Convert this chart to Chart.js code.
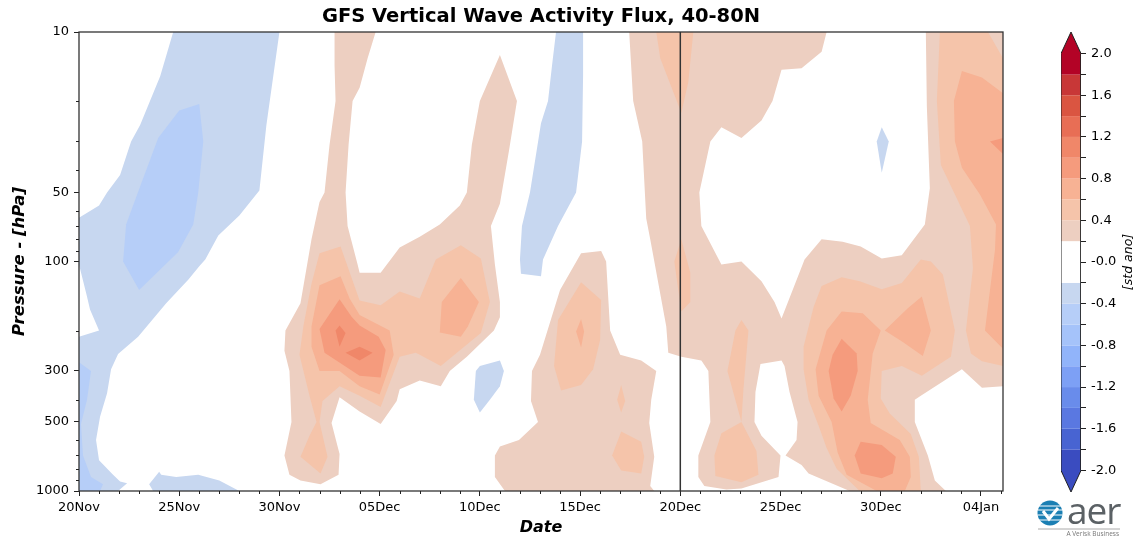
<!DOCTYPE html>
<html>
<head>
<meta charset="utf-8">
<title>GFS Vertical Wave Activity Flux</title>
<script src="https://cdn.jsdelivr.net/npm/chart.js@4"></script>
<style>
  html, body { margin: 0; padding: 0; background: #fff; width: 1139px; height: 537px; overflow: hidden; }
  canvas { position: absolute; top: 0; }
  #logo { position: absolute; left: 1036px; top: 499px; }
</style>
</head>
<body>
<canvas id="flux" width="1139" height="537" style="left:0"></canvas>
<canvas id="cbar" width="99" height="537" style="left:1040px"></canvas>
<svg id="logo" width="103" height="38" viewBox="0 0 103 38">
  <circle cx="14" cy="14" r="12.5" fill="#1b7fb3"/>
  <path d="M2 7h24M1.5 11h25M1.5 16h25M3 21h22" stroke="#fff" stroke-width="1"/>
  <path d="M7 12l6 8 9-11" fill="none" stroke="#fff" stroke-width="3"/>
  <text x="31" y="25" font-family="'Open Sans', sans-serif" font-size="37" fill="#5b6165" letter-spacing="-1">aer</text>
  <line x1="2" y1="30" x2="84" y2="30" stroke="#aaa" stroke-width="1"/>
  <text x="83" y="37" text-anchor="end" font-family="'Open Sans', sans-serif" font-size="6.5" fill="#777">A Verisk Business</text>
</svg>
<script>
(() => {
  // x = days since 20 Nov, y = pressure in hPa
  const xTickDays = [0, 5, 10, 15, 20, 25, 30, 35, 40, 45];
  const xTickLabels = ["20Nov", "25Nov", "30Nov", "05Dec", "10Dec", "15Dec", "20Dec", "25Dec", "30Dec", "04Jan"];
  const yTicks = [10, 50, 100, 300, 500, 1000];
  const yMinorTicks = [20, 30, 40, 60, 70, 80, 90, 200, 400, 600, 700, 800, 900];
  const xMax = 46.1;
  const markerDay = 30;

  const cbTicks = [2, 1.8, 1.6, 1.4, 1.2, 1, 0.8, 0.6, 0.4, 0.2, 0, -0.2, -0.4, -0.6, -0.8, -1, -1.2, -1.4, -1.6, -1.8, -2];
  const cbLabels = ["2.0", "", "1.6", "", "1.2", "", "0.8", "", "0.4", "", "-0.0", "", "-0.4", "", "-0.8", "", "-1.2", "", "-1.6", "", "-2.0"];
  const cbEdges = [-1.8, -1.6, -1.4, -1.2, -1, -0.8, -0.6, -0.4, -0.2, 0.2, 0.4, 0.6, 0.8, 1, 1.2, 1.4, 1.6, 1.8];
  const cbColors = ["rgb(58,76,192)", "rgb(72,100,210)", "rgb(90,120,225)", "rgb(105,140,235)", "rgb(125,160,245)",
    "rgb(145,180,250)", "rgb(165,195,250)", "rgb(182,206,248)", "rgb(199,215,240)", "#ffffff",
    "rgb(237,207,193)", "rgb(245,196,170)", "rgb(247,178,148)", "rgb(245,155,125)", "rgb(240,135,105)",
    "rgb(232,110,85)", "rgb(218,85,65)", "rgb(200,55,55)", "rgb(179,3,38)"];
  const cbTip = 2.207;

  // -0.4 to -0.2
  const neg02 = [
    [[4.7,10],[4.05,15.6],[3.05,25.4],[2.6,30],[2.05,42],[1.4,50],[1,57],[0,64.5],[0,103],[0.38,140],[0.55,162],[1,200],[0,213],[0,1000],
     [1.95,1000],[2.4,925],[2.05,910],[1.7,850],[1,735],[0.85,600],[1.05,475],[1.4,375],[1.6,295],[1.95,253],[2.95,213],[4.35,152],[5.45,120],
     [6,105],[6.3,98],[6.95,77],[8,63],[9,49],[9.35,25.4],[10,10]],
    [[3.5,935],[4,825],[4.1,850],[4.85,870],[5.95,850],[7,900],[8,1000],[3.7,1000]],
    [[23.8,10],[25.15,10],[25.15,15.4],[25.1,30],[24.8,50],[23.9,70],[23.15,98],[23.05,116],[22.05,113],[22,98],[22.1,70],[22.5,50],[23.05,25],[23.4,20],[23.6,14]],
    [[21,270],[21.2,300],[21,350],[20.5,400],[20,455],[19.7,400],[19.8,300],[20,285]],
    [[40.05,26],[40.4,30],[40.05,41],[39.8,30]]
  ];
  // -0.6 to -0.4
  const neg04 = [
    [[6,20.6],[5,22],[3.95,29],[2.9,51],[2.35,69],[2.2,100],[3,133],[4.95,91],[5.7,69],[5.95,50],[6.2,30]],
    [[0,275],[0.6,300],[0.4,400],[0.1,510],[0.2,700],[0.6,870],[1.2,935],[1.05,1000],[0,1000]]
  ];
  // 0.2 to 0.4
  const pos02 = [
    [[12.75,10],[14.8,10],[14.4,13],[14,17.5],[13.65,20],[13.45,31],[13.3,50],[13.4,70],[13.9,103],[14,112],[15.05,112],[16,87],[17,78],[18,69],[19,57],[19.35,50],
     [19.6,31],[20,20],[21,12.6],[21.85,20],[21.45,33],[21,56],[20.55,70],[20.75,103],[21,150],[21,175],[20.7,200],[19.35,260],[18.5,300],[18.05,350],[17,330],[16,360],
     [15.85,405],[15.05,510],[14,450],[13,390],[12.6,505],[13,690],[12.95,850],[12.05,935],[11.05,900],[10.5,850],[10.25,700],[10.6,500],[10.5,300],[10.25,245],[10.3,200],
     [11.05,152],[11.6,80],[12,55],[12.25,50],[12.5,31],[12.8,20],[12.75,14]],
    [[25.05,92],[26.05,90],[26.3,100],[26.5,200],[27,255],[28.05,270],[28.8,300],[28.55,400],[28.45,505],[28.7,710],[28.5,950],[28.7,1000],[21.25,1000],[20.75,870],[20.75,700],
     [21,640],[21.95,600],[22.9,500],[22.55,405],[22.6,300],[23,255],[24,133]],
    [[27.45,10],[27.65,20],[28.1,30],[28.3,65],[28.5,80],[29.3,192],[29.4,250],[30.05,260],[31.05,270],[31.4,300],[31.5,500],[30.9,700],[30.9,870],[31.2,950],[32.3,985],[33.05,975],
     [34.9,870],[35,700],[34.05,575],[33.7,500],[33.75,370],[34,280],[35.05,270],[35.2,285],[35.45,370],[35.85,500],[35.8,600],[35.25,700],[36.05,770],[36.4,840],[38.45,1000],[43.25,1000],
     [42.7,900],[42.35,700],[41.7,500],[41.7,400],[42,385],[44.05,295],[45.05,355],[46.1,350],[46.1,10],[42.25,10],[42.3,21],[42.45,48],[42.2,69],[41.05,94],[40.05,97],[39,86],[38.1,82],
     [37.05,80],[36.2,98],[35.05,177],[34.7,150],[34.05,122],[33.05,100],[32.05,103],[31.05,70],[30.95,50],[31.5,30],[32.05,26],[33.05,29],[34.05,24.3],[34.6,20],[35.05,14.6],[36.05,14.4],[37.05,12.2],[37.3,10]]
  ];
  // 0.4 to 0.6
  const pos04 = [
    [[12,92],[13.05,86],[14,148],[15.05,155],[16,135],[17,145],[17.8,98],[19.05,85],[20.05,97],[20.5,150],[20.05,205],[18.05,285],[17,255],[16.8,250],[16,260],[15.05,430],[14,385],[13,350],
     [12.15,405],[12,500],[12.4,710],[12.05,840],[11.05,710],[11.5,575],[11.85,500],[11.5,385],[11,255],[11.2,190],[11.6,125]],
    [[25.05,123],[26.05,147],[26,220],[25.65,295],[25.05,345],[24.05,365],[23.7,285],[23.9,180]],
    [[27.05,345],[27.25,405],[27.05,455],[26.85,400]],
    [[27.05,550],[28.05,610],[28.2,710],[28.05,840],[27.05,815],[26.6,700]],
    [[28.8,10],[30.65,10],[30.4,16.5],[30.05,22.5],[29,13]],
    [[29.7,100],[30.05,80],[30.5,112],[30.5,150],[30.05,165],[29.9,133]],
    [[33.05,180],[33.4,200],[33.15,360],[33.05,500],[33.8,670],[33.9,850],[33.05,915],[31.75,860],[31.7,700],[32.05,560],[33.05,500],[32.35,300],[32.75,200]],
    [[37.05,128],[38.05,117],[38.95,122],[40.05,132],[41.05,124],[42,98],[42.5,100],[43.1,114],[43.7,200],[43.5,260],[42.05,315],[41.05,285],[40.05,300],[40,395],[40.45,460],[41.5,565],[41.9,710],[42,1000],
     [38.95,1000],[37.8,800],[37.3,650],[36.9,520],[36.4,400],[36.15,295],[36.15,235],[36.65,158]],
    [[42.95,10],[42.8,20],[43,38],[44.45,70],[44.6,107],[44.25,200],[44.5,252],[45.05,272],[46.1,285],[46.1,13],[45.35,10]]
  ];
  // 0.6 to 0.8
  const pos06 = [
    [[13.05,116],[12,127],[11.6,192],[11.6,235],[12,300],[13,300],[14,350],[15,380],[15.7,255],[15.5,200],[14,171],[13.5,145]],
    [[19.05,118],[19.95,150],[19.4,192],[19.05,213],[18,204],[18.1,150]],
    [[25.05,178],[25.2,202],[25.05,237],[24.8,202]],
    [[38.05,165],[39.1,168],[40,200],[39.6,252],[39.35,400],[39.5,505],[40.95,600],[41.45,710],[41.5,870],[41.2,1000],[39.8,1000],[38.3,850],[37.85,680],[37.55,500],[36.9,385],[36.75,295],[37.3,200]],
    [[42.05,142],[42.5,200],[42.1,258],[41.1,224],[40.2,200],[41.35,160]],
    [[44.05,14.8],[45.05,15.8],[46.1,18.5],[46.1,240],[45.2,200],[45.7,89],[45.75,69],[44.95,51],[44.05,39],[43.7,30],[43.65,20]]
  ];
  // 0.8 to 1.0
  const pos08 = [
    [[13,146],[12,197],[12.25,250],[14,315],[15.05,320],[15.3,243],[14.95,213],[14,190],[13.6,174]],
    [[38.05,217],[38.8,252],[38.85,300],[38.5,385],[38.05,450],[37.65,395],[37.4,300],[37.6,255]],
    [[39,610],[40.05,630],[40.75,710],[40.6,840],[40.05,880],[39,840],[38.7,700]],
    [[45.45,30],[46.1,29],[46.1,34]]
  ];
  // 1.0 to 1.2
  const pos10 = [
    [[13,190],[13.3,205],[13,235],[12.8,200]],
    [[14,235],[14.65,250],[14,270],[13.3,250]]
  ];

  const fontFamily = "'DejaVu Sans', sans-serif";
  const polyDataset = (poly, color) => ({
    data: poly.map(([x, y]) => ({ x, y })),
    showLine: true,
    fill: "shape",
    backgroundColor: color,
    borderWidth: 0,
    pointRadius: 0,
    tension: 0
  });

  const layers = [
    [neg02, cbColors[8]], [neg04, cbColors[7]], [pos02, cbColors[10]], [pos04, cbColors[11]],
    [pos06, cbColors[12]], [pos08, cbColors[13]], [pos10, cbColors[14]]
  ];
  const fluxSets = [];
  layers.forEach(([polys, color]) => polys.forEach(p => fluxSets.push(polyDataset(p, color))));
  fluxSets.push({
    data: [{ x: markerDay, y: 10 }, { x: markerDay, y: 1000 }],
    showLine: true, fill: false, borderColor: "#333", borderWidth: 1.5, pointRadius: 0
  });
  // chart.js paints the first dataset last unless told otherwise
  fluxSets.forEach((d, i) => { d.order = fluxSets.length - i; });

  // frame on all four sides and the short minor ticks
  const framePlugin = {
    id: "frame",
    afterDraw(chart) {
      const { ctx, chartArea: a, scales } = chart;
      ctx.save();
      ctx.strokeStyle = "#333";
      ctx.lineWidth = 1.3;
      ctx.strokeRect(a.left, a.top, a.right - a.left, a.bottom - a.top);
      ctx.lineWidth = 1;
      ctx.strokeStyle = "#222";
      ctx.beginPath();
      for (let d = 1; d <= 46; d++) {
        if (xTickDays.includes(d)) continue;
        const px = Math.round(scales.x.getPixelForValue(d)) + 0.5;
        ctx.moveTo(px, a.bottom);
        ctx.lineTo(px, a.bottom + 3);
      }
      yMinorTicks.forEach(p => {
        const py = Math.round(scales.y.getPixelForValue(p)) + 0.5;
        ctx.moveTo(a.left, py);
        ctx.lineTo(a.left - 3, py);
      });
      ctx.stroke();
      ctx.restore();
    }
  };

  new Chart(document.getElementById("flux"), {
    type: "scatter",
    data: { datasets: fluxSets },
    plugins: [framePlugin],
    options: {
      responsive: false,
      animation: false,
      events: [],
      layout: { padding: { top: 5.5, right: 136, left: 0, bottom: 0 } },
      plugins: {
        legend: { display: false },
        tooltip: { enabled: false },
        title: {
          display: true,
          fullSize: false,
          text: "GFS Vertical Wave Activity Flux, 40-80N",
          color: "#000",
          font: { family: fontFamily, size: 19.5, weight: "bold" },
          padding: { top: 0, bottom: 3.1 }
        }
      },
      scales: {
        x: {
          type: "linear",
          min: 0,
          max: xMax,
          afterBuildTicks: s => { s.ticks = xTickDays.map(value => ({ value })); },
          afterFit: s => { s.height = 46; },
          ticks: {
            autoSkip: false, maxRotation: 0, color: "#000", padding: 4,
            font: { family: fontFamily, size: 13 },
            callback: v => xTickLabels[xTickDays.indexOf(v)]
          },
          grid: { drawOnChartArea: false, color: "#222", tickLength: 5 },
          border: { display: false },
          title: {
            display: true, text: "Date", color: "#000", padding: { top: 2, bottom: 0 },
            font: { family: fontFamily, size: 16, weight: "bold", style: "italic" }
          }
        },
        y: {
          type: "logarithmic",
          reverse: true,
          min: 10,
          max: 1000,
          afterBuildTicks: s => { s.ticks = yTicks.map(value => ({ value })); },
          afterFit: s => { s.width = 79; },
          ticks: {
            autoSkip: false, color: "#000", padding: 5,
            font: { family: fontFamily, size: 13 },
            callback: v => String(v)
          },
          grid: { drawOnChartArea: false, color: "#222", tickLength: 5 },
          border: { display: false },
          title: {
            display: true, text: "Pressure - [hPa]", color: "#000", padding: { top: 10, bottom: 0 },
            font: { family: fontFamily, size: 16.5, weight: "bold", style: "italic" }
          }
        }
      }
    }
  });

  // colour bar
  const cbSets = [];
  cbColors.forEach((color, i) => {
    let poly;
    if (i === 0) poly = [[0, cbEdges[0]], [1, cbEdges[0]], [1, -2], [0.5, -cbTip], [0, -2]];
    else if (i === cbColors.length - 1) poly = [[0, cbEdges[i - 1]], [1, cbEdges[i - 1]], [1, 2], [0.5, cbTip], [0, 2]];
    else poly = [[0, cbEdges[i - 1]], [1, cbEdges[i - 1]], [1, cbEdges[i]], [0, cbEdges[i]]];
    cbSets.push(polyDataset(poly, color));
  });
  cbSets.push({
    data: [[0, -2], [0, 2], [0.5, cbTip], [1, 2], [1, -2], [0.5, -cbTip], [0, -2]].map(([x, y]) => ({ x, y })),
    showLine: true, fill: false, borderColor: "#222", borderWidth: 1, pointRadius: 0
  });
  cbSets.forEach((d, i) => { d.order = cbSets.length - i; });

  // the axis title on a right-hand scale reads downwards, this one reads upwards
  const cbLabelPlugin = {
    id: "cbLabel",
    afterDraw(chart) {
      const { ctx, chartArea: a } = chart;
      ctx.save();
      ctx.translate(a.right + 48, (a.top + a.bottom) / 2);
      ctx.rotate(-Math.PI / 2);
      ctx.textAlign = "center";
      ctx.textBaseline = "middle";
      ctx.fillStyle = "#000";
      ctx.font = `italic 12.5px ${fontFamily}`;
      ctx.fillText("[std ano]", 0, 0);
      ctx.restore();
    }
  };

  new Chart(document.getElementById("cbar"), {
    type: "scatter",
    data: { datasets: cbSets },
    plugins: [cbLabelPlugin],
    options: {
      responsive: false,
      animation: false,
      events: [],
      layout: { padding: { top: 32, left: 21, right: 0, bottom: 45 } },
      plugins: { legend: { display: false }, tooltip: { enabled: false }, title: { display: false } },
      scales: {
        x: { type: "linear", min: 0, max: 1, display: false },
        y: {
          type: "linear",
          position: "right",
          min: -cbTip,
          max: cbTip,
          afterBuildTicks: s => { s.ticks = cbTicks.map(value => ({ value })); },
          afterFit: s => { s.width = 58; },
          ticks: {
            autoSkip: false, color: "#000", padding: 5,
            font: { family: fontFamily, size: 13 },
            callback: v => cbLabels[cbTicks.indexOf(v)]
          },
          grid: { drawOnChartArea: false, color: "#222", tickLength: 5 },
          border: { display: false }
        }
      }
    }
  });
})();
</script>
</body>
</html>
